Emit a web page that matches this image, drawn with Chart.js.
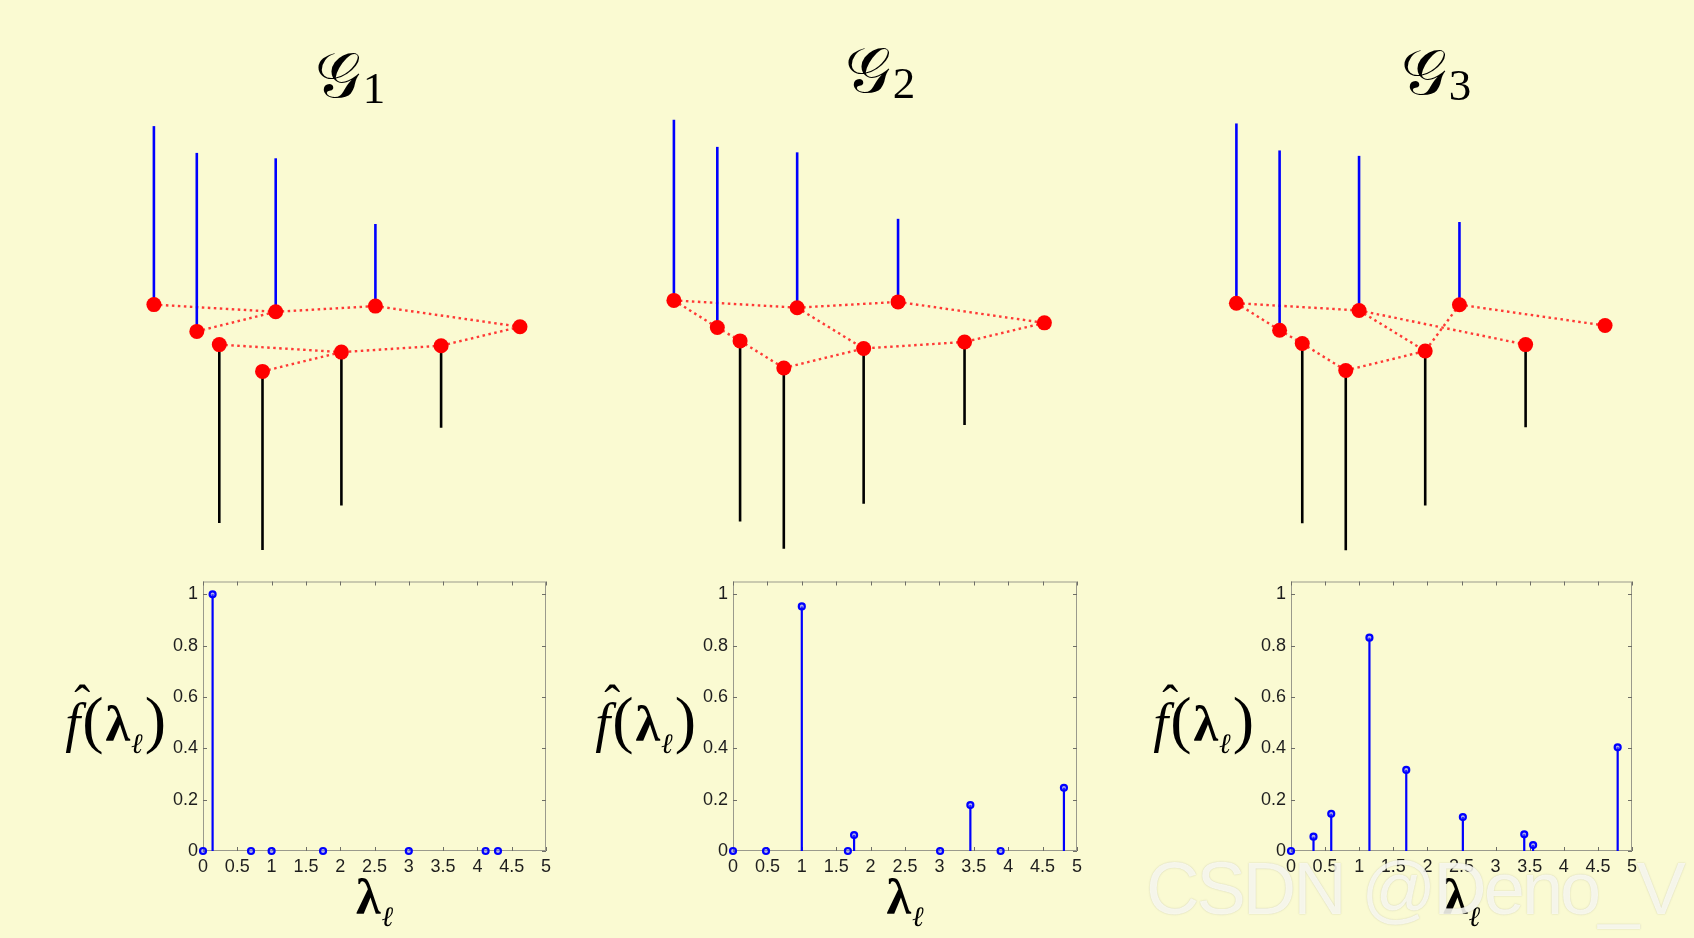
<!DOCTYPE html>
<html>
<head>
<meta charset="utf-8">
<title>Graph signals and spectra</title>
<script src="https://cdn.jsdelivr.net/npm/chart.js@4.4.1/dist/chart.umd.min.js"></script>
<style>
  html, body { margin: 0; padding: 0; background: #FAFAD2; }
  #page { position: relative; width: 1694px; height: 938px; overflow: hidden; background: #FAFAD2; }
  canvas { position: absolute; }
  .title { position: absolute; transform: translateX(-50%); white-space: nowrap; color: #000;
           font-family: "DejaVu Serif", "DejaVu Sans", serif; font-size: 64px; line-height: 70px; }
  .title .sub { font-family: "Liberation Serif", serif; font-size: 45px; position: relative; top: 6px; margin-left: 2px; }
  .ylab { position: absolute; transform: translateX(-100%); white-space: nowrap; color: #000;
          font-family: "Liberation Serif", serif; font-size: 54px; line-height: 70px; }
  .ylab .fh { font-style: italic; position: relative; display: inline-block; }
  .ylab .hat { position: absolute; left: 9px; top: -20px; font-style: normal; font-size: 48px; }
  .ylab .par { font-size: 64px; margin: 0 2px; }
  .lam { font-weight: bold; font-size: 50px; }
  .ell { font-style: italic; font-size: 28px; position: relative; top: 12px; margin-left: 1px; }
  .xlab { position: absolute; transform: translateX(-50%); white-space: nowrap; color: #000;
          font-family: "Liberation Serif", serif; font-size: 46px; line-height: 50px; }
  .wm { position: absolute; white-space: nowrap; font-family: "Liberation Sans", Arial, sans-serif;
        font-size: 74px; line-height: 74px; letter-spacing: -3px; color: rgba(253, 253, 246, 0.85);
        text-shadow: 0 0 1.5px rgba(110, 110, 90, 0.35); }
</style>
</head>
<body>
<div id="page"></div>
<script>
// sommets du graphe (même disposition pour les trois graphes)
const nodeX = [0, 0.429, 1.218, 2.215, 3.661, 0.654, 1.086, 1.875, 2.872];
const nodeY = [0, -0.268, -0.072, -0.015, -0.222, -0.400, -0.668, -0.475, -0.411];
// signal sur les sommets
const signal = [1, 1, 0.86, 0.46, 0, -1, -1, -0.86, -0.46];
const stemScale = 1.785;

// arêtes de chaque graphe
const edgesG1 = [[0, 2], [1, 2], [2, 3], [3, 4], [4, 8], [8, 7], [5, 7], [6, 7]];
const edgesG2 = [[0, 2], [0, 1], [1, 5], [5, 6], [6, 7], [2, 7], [2, 3], [3, 4], [4, 8], [8, 7]];
const edgesG3 = [[0, 2], [0, 1], [1, 5], [5, 6], [6, 7], [2, 7], [2, 8], [3, 7], [3, 4]];

// spectres
const lambda1 = [0, 0.14, 0.70, 1.00, 1.75, 3.00, 4.12, 4.30];
const fhat1 = [0, 1.0, 0, 0, 0, 0, 0, 0];
const lambda2 = [0, 0.48, 1.00, 1.67, 1.76, 3.01, 3.45, 3.89, 4.81];
const fhat2 = [0, 0, 0.953, 0, 0.062, 0, 0.179, 0, 0.246];
const lambda3 = [0, 0.33, 0.59, 1.15, 1.69, 2.52, 3.42, 3.55, 4.79];
const fhat3 = [0, 0.056, 0.145, 0.831, 0.316, 0.132, 0.065, 0.023, 0.404];

const xTicks = [0, 0.5, 1, 1.5, 2, 2.5, 3, 3.5, 4, 4.5, 5];
const xTickLabels = ['0', '0.5', '1', '1.5', '2', '2.5', '3', '3.5', '4', '4.5', '5'];
const yTicks = [0, 0.2, 0.4, 0.6, 0.8, 1];
const yTickLabels = ['0', '0.2', '0.4', '0.6', '0.8', '1'];

const titles = ['1', '2', '3'];
const allEdges = [edgesG1, edgesG2, edgesG3];
const allLambda = [lambda1, lambda2, lambda3];
const allFhat = [fhat1, fhat2, fhat3];

// placement des panneaux
const graphPanels = [
    { left: 0, ax: 153.9, ay: 304.6, zoom: 1.0, titleX: 350, titleY: 40 },
    { left: 565, ax: 673.9, ay: 300.4, zoom: 1.012, titleX: 880, titleY: 35 },
    { left: 1130, ax: 1236.4, ay: 303.2, zoom: 1.007, titleX: 1436, titleY: 37 }
];
const specPanels = [
    { left: 203, right: 546 },
    { left: 733, right: 1077 },
    { left: 1291, right: 1632 }
];
const graphTop = 100, graphW = 564, graphH = 460;
const specTop = 560, plotTop = 581.5, plotBottom = 851;
const yAxisW = 60, xAxisH = 40, padRight = 20;

const page = document.getElementById('page');

function makeCanvas(left, top, w, h) {
    const c = document.createElement('canvas');
    c.width = w; c.height = h;
    c.style.left = left + 'px'; c.style.top = top + 'px';
    c.style.width = w + 'px'; c.style.height = h + 'px';
    page.appendChild(c);
    return c.getContext('2d');
}

function seg(x1, y1, x2, y2) {
    return [{ x: x1, y: y1 }, { x: x2, y: y2 }];
}

// graphes avec signaux
function graphChart(k) {
    const p = graphPanels[k];
    const unit = 100 * p.zoom;
    const xmin = -(p.ax - p.left) / unit;
    const ymax = (p.ay - graphTop) / unit;
    const datasets = [];

    datasets.push({
        data: nodeX.map((x, i) => ({ x: x, y: nodeY[i] })),
        pointRadius: 7.5,
        pointBackgroundColor: '#FF0000',
        pointBorderWidth: 0,
        order: 0
    });

    signal.forEach((s, i) => {
        if (s === 0) return;
        datasets.push({
            data: seg(nodeX[i], nodeY[i], nodeX[i], nodeY[i] + s * stemScale),
            showLine: true,
            borderColor: s > 0 ? '#0000FF' : '#000000',
            borderWidth: 2.6,
            pointRadius: 0,
            order: 1
        });
    });

    allEdges[k].forEach(e => {
        datasets.push({
            data: seg(nodeX[e[0]], nodeY[e[0]], nodeX[e[1]], nodeY[e[1]]),
            showLine: true,
            borderColor: 'rgba(255, 35, 35, 0.9)',
            borderWidth: 2.4,
            borderDash: [2.5, 3.5],
            pointRadius: 0,
            order: 2
        });
    });

    new Chart(makeCanvas(p.left, graphTop, graphW, graphH), {
        type: 'scatter',
        data: { datasets: datasets },
        options: {
            responsive: false,
            animation: false,
            events: [],
            layout: { padding: 0, autoPadding: false },
            plugins: { legend: { display: false }, tooltip: { enabled: false } },
            scales: {
                x: { type: 'linear', display: false, min: xmin, max: xmin + graphW / unit },
                y: { type: 'linear', display: false, min: ymax - graphH / unit, max: ymax }
            }
        }
    });

    const t = document.createElement('div');
    t.className = 'title';
    t.style.left = p.titleX + 'px';
    t.style.top = p.titleY + 'px';
    t.innerHTML = '\u{1D4A2}<span class="sub">' + titles[k] + '</span>';
    page.appendChild(t);
}

// boîte et graduations intérieures façon MATLAB
const boxTicks = {
    id: 'boxTicks',
    beforeDatasetsDraw(chart) {
        const { ctx, chartArea: a, scales } = chart;
        ctx.save();
        ctx.strokeStyle = '#9a9a8c';
        ctx.lineWidth = 1;
        ctx.strokeRect(a.left + 0.5, a.top + 0.5, a.right - a.left - 1, a.bottom - a.top - 1);
        ctx.strokeStyle = '#6e6e66';
        ctx.beginPath();
        xTicks.forEach(v => {
            const px = Math.round(scales.x.getPixelForValue(v)) + 0.5;
            ctx.moveTo(px, a.bottom); ctx.lineTo(px, a.bottom - 4);
            ctx.moveTo(px, a.top); ctx.lineTo(px, a.top + 4);
        });
        yTicks.forEach(v => {
            const py = Math.round(scales.y.getPixelForValue(v)) + 0.5;
            ctx.moveTo(a.left, py); ctx.lineTo(a.left + 4, py);
            ctx.moveTo(a.right, py); ctx.lineTo(a.right - 4, py);
        });
        ctx.stroke();
        ctx.restore();
    }
};

function spectrumChart(k) {
    const p = specPanels[k];
    const lam = allLambda[k], fh = allFhat[k];
    const w = (p.right - p.left) + yAxisW + padRight;
    const h = (plotBottom - specTop) + xAxisH;
    const tickFont = { family: '"Liberation Sans", Arial, sans-serif', size: 18 };
    const datasets = [{
        data: lam.map((x, i) => ({ x: x, y: fh[i] })),
        pointRadius: 3,
        pointBorderWidth: 2.2,
        pointBorderColor: '#0000FF',
        pointBackgroundColor: 'rgba(90, 90, 255, 0.45)',
        clip: false,
        order: 0
    }];
    lam.forEach((x, i) => {
        if (fh[i] === 0) return;
        datasets.push({
            data: seg(x, 0, x, fh[i]),
            showLine: true,
            borderColor: '#0000FF',
            borderWidth: 2.2,
            pointRadius: 0,
            order: 1
        });
    });

    new Chart(makeCanvas(p.left - yAxisW, specTop, w, h), {
        type: 'scatter',
        data: { datasets: datasets },
        options: {
            responsive: false,
            animation: false,
            events: [],
            layout: { padding: { top: plotTop - specTop, right: padRight, left: 0, bottom: 0 }, autoPadding: false },
            plugins: { legend: { display: false }, tooltip: { enabled: false } },
            scales: {
                x: {
                    type: 'linear', min: 0, max: 5,
                    afterBuildTicks: axis => { axis.ticks = xTicks.map(v => ({ value: v })); },
                    afterFit: axis => { axis.height = xAxisH; },
                    grid: { display: false, drawTicks: false },
                    border: { display: false },
                    ticks: {
                        autoSkip: false, maxRotation: 0, padding: 5,
                        color: '#1e1e1e', font: tickFont,
                        callback: (v, i) => xTickLabels[i]
                    }
                },
                y: {
                    type: 'linear', min: 0, max: 1.05,
                    afterBuildTicks: axis => { axis.ticks = yTicks.map(v => ({ value: v })); },
                    afterFit: axis => { axis.width = yAxisW; },
                    grid: { display: false, drawTicks: false },
                    border: { display: false },
                    ticks: {
                        padding: 5,
                        color: '#1e1e1e', font: tickFont,
                        callback: (v, i) => yTickLabels[i]
                    }
                }
            }
        },
        plugins: [boxTicks]
    });

    const yl = document.createElement('div');
    yl.className = 'ylab';
    yl.style.left = (p.left - 35) + 'px';
    yl.style.top = '685px';
    yl.innerHTML = '<span class="fh">f<span class="hat">\u02C6</span></span><span class="par">(</span>' +
        '<span class="lam">\u03BB</span><span class="ell">\u2113</span><span class="par">)</span>';
    page.appendChild(yl);

    const xl = document.createElement('div');
    xl.className = 'xlab';
    xl.style.left = ((p.left + p.right) / 2) + 'px';
    xl.style.top = '872px';
    xl.innerHTML = '<span class="lam">\u03BB</span><span class="ell">\u2113</span>';
    page.appendChild(xl);
}

[0, 1, 2].forEach(k => { graphChart(k); spectrumChart(k); });

const wm = document.createElement('div');
wm.className = 'wm';
wm.style.left = '1146px';
wm.style.top = '852px';
wm.textContent = 'CSDN @Deno_V';
page.appendChild(wm);
</script>
</body>
</html>
